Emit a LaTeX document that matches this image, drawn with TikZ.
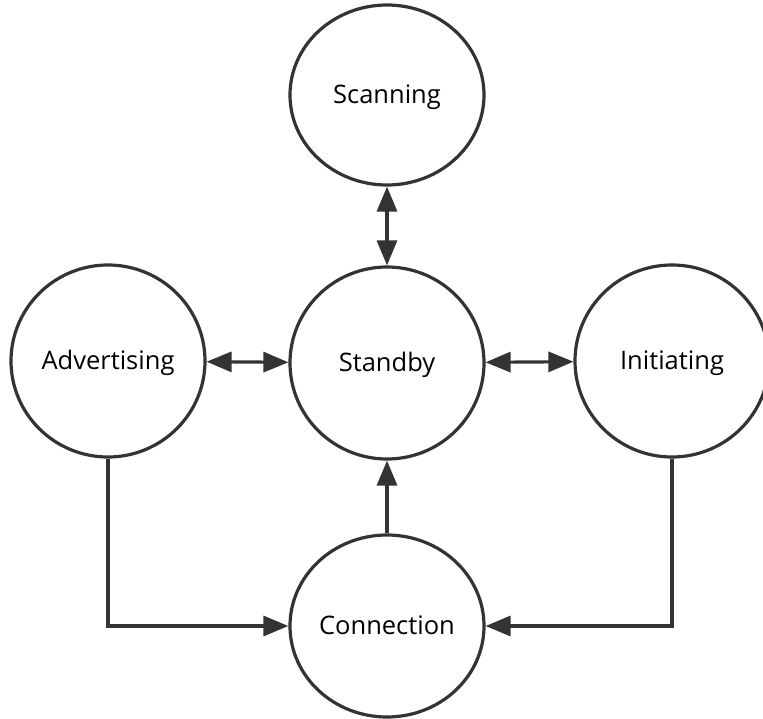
\documentclass[tikz,border=0pt]{standalone}
\usepackage{fontspec}
\setmainfont{Open Sans}
\usetikzlibrary{arrows.meta,positioning,shapes.geometric}
\tikzset{
    state/.style={ellipse,draw=black!80,line width=3.2pt,fill=white,inner sep=0pt,
        minimum width=194pt,minimum height=#1,font=\fontsize{25.5}{30}\selectfont,
        text height=17pt,text depth=0pt},
    state/.default=192pt,
    arr/.style={-{Triangle[length=25pt,width=20pt]},line width=3.2pt,draw=black!80},
    darr/.style={{Triangle[length=25pt,width=20pt]}-{Triangle[length=25pt,width=20pt]},line width=3.2pt,draw=black!80},
}

\begin{document}
\begin{tikzpicture}[x=1pt,y=-1pt]
        \useasboundingbox (0,0) rectangle (763,719);
        \node[state] (standby) at (387,363) {Standby};
        \node[state=180pt] (scanning) at (387,95) {Scanning};
        \node[state] (advertising) at (108,361) {Advertising};
        \node[state] (initiating) at (672,361) {Initiating};
        \node[state=182pt] (connection) at (387,626) {Connection};
        % links to standby
        \draw[darr] (scanning) -- (standby);
        \draw[darr] (standby) -- (advertising);
        \draw[darr] (standby) -- (initiating);
        \draw[arr] (connection) -- (standby);
        % into connection
        \draw[arr] (advertising.south) |- (connection.west);
        \draw[arr] (initiating.south) |- (connection.east);
    \end{tikzpicture}
\end{document}
